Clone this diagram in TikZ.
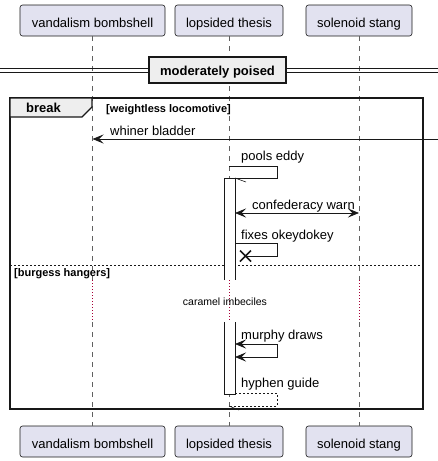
\documentclass[tikz,border=0pt]{standalone}
\usepackage{fontspec}
\setmainfont{Liberation Sans}
\usetikzlibrary{arrows.meta}
\definecolor{partfill}{RGB}{226,226,240}
\definecolor{partdraw}{RGB}{24,24,24}
\definecolor{grpfill}{RGB}{238,238,238}
\definecolor{delaycol}{RGB}{168,0,54}
\begin{document}
\begin{tikzpicture}[x=1pt,y=-1pt,
  part/.style={draw=partdraw, fill=partfill, rounded corners=2.5pt, minimum height=31pt,
    inner sep=0pt, text height=13.6pt, text depth=0pt, font=\fontsize{13}{15}\selectfont, line width=0.6pt},
  life/.style={dash pattern=on 5pt off 5pt, draw=gray!75!black, line width=0.6pt},
  delayline/.style={dash pattern=on 1pt off 2pt, draw=delaycol, line width=0.8pt},
  msg/.style={line width=0.8pt, draw=partdraw},
  tip/.tip={Stealth[length=11pt,width=9pt,inset=4.5pt]},
  lbl/.style={anchor=base west, inner sep=0pt, font=\fontsize{13}{15}\selectfont},
  grp/.style={line width=1.8pt, draw=partdraw},
  bar/.style={draw=partdraw, line width=0.8pt}]
\useasboundingbox (0,0) rectangle (438,461);

% participants
\node[part, minimum width=145pt] (vbT) at (92.5,20.5) {vandalism bombshell};
\node[part, minimum width=108pt] (ltT) at (229,20.5) {lopsided thesis};
\node[part, minimum width=106pt] (ssT) at (359,20.5) {solenoid stang};
\node[part, minimum width=145pt] (vbB) at (92.5,441.5) {vandalism bombshell};
\node[part, minimum width=108pt] (ltB) at (229,441.5) {lopsided thesis};
\node[part, minimum width=106pt] (ssB) at (359,441.5) {solenoid stang};

% lifelines with delay
\foreach \p/\x in {vb/92.5, lt/229, ss/359} {
  \coordinate (\p D1) at (\x,280);
  \coordinate (\p D2) at (\x,322);
  \draw[life] (\p T.south) -- (\p D1);
  \draw[delayline] (\p D1) -- (\p D2);
  \draw[life] (\p D2) -- (\p B.north);
}

% divider
\coordinate (dL) at (0,68.5); \coordinate (dR) at (438,68.5);
\coordinate (dL2) at (0,72.5); \coordinate (dR2) at (438,72.5);
\draw[line width=0.9pt, partdraw] (dL) -- (dR) (dL2) -- (dR2);
\node[draw=partdraw, fill=grpfill, line width=1.5pt, minimum width=137pt, minimum height=26pt,
  inner sep=0pt, text height=11.4pt, text depth=0pt, font=\bfseries\fontsize{13}{15}\selectfont]
  (div) at (217.5,70) {moderately poised};

% break frame
\draw[grp] (10,98) rectangle (423,409);
\draw[line width=1.2pt, draw=partdraw, fill=grpfill] (10,98) -- (92,98) -- (92,107) -- (82,117) -- (10,117) -- cycle;
\node[anchor=base, inner sep=0pt, font=\bfseries\fontsize{13}{15}\selectfont] (brk) at (43.5,112.5) {break};
\node[anchor=base west, inner sep=0pt, font=\bfseries\fontsize{11}{13}\selectfont] (cond1) at (106,112) {[weightless locomotive]};

% whiner bladder
\coordinate (wbR) at (438,139); \coordinate (wbL) at (92.5,139);
\draw[msg, -{tip}] (wbR) -- (wbL);
\node[lbl] (wbT) at (110,135.3) {whiner bladder};

% pools eddy
\coordinate (pe1) at (229,166); \coordinate (pe2) at (277,166);
\coordinate (pe3) at (277,178); \coordinate (pe4) at (235,178);
\draw[msg] (pe1) -- (pe2) -- (pe3) -- (pe4);
\draw[line width=0.6pt, partdraw] (pe4) -- ++(11,4);
\node[lbl] (peT) at (241,160) {pools eddy};

% confederacy warn
\coordinate (cw1) at (235,213); \coordinate (cw2) at (359,213);
\draw[msg, {tip}-{tip}] (cw1) -- (cw2);
\node[lbl] (cwT) at (252,209.3) {confederacy warn};

% fixes okeydokey
\coordinate (fo1) at (235,243); \coordinate (fo2) at (277,243);
\coordinate (fo3) at (277,256); \coordinate (fo4) at (245.5,256);
\draw[msg] (fo1) -- (fo2) -- (fo3) -- (fo4);
\draw[line width=1.6pt, partdraw] (fo4) ++(-5.5,-5.5) -- ++(11,11) (fo4) ++(-5.5,5.5) -- ++(11,-11);
\node[lbl] (foT) at (241,239) {fixes okeydokey};

% else separator
\coordinate (sepL) at (10,265); \coordinate (sepR) at (423,265);
\draw[dash pattern=on 2pt off 2pt, line width=0.8pt, partdraw] (sepL) -- (sepR);
\node[anchor=base west, inner sep=0pt, font=\bfseries\fontsize{11}{13}\selectfont] (cond2) at (14,276.7) {[burgess hangers]};

% delay text
\node[anchor=base, inner sep=0pt, font=\fontsize{10.5}{12}\selectfont] (dly) at (225,305) {caramel imbeciles};

% murphy draws
\coordinate (md1) at (235,344); \coordinate (md2) at (277,344);
\coordinate (md3) at (277,357); \coordinate (md4) at (235,357);
\draw[msg, {tip}-{tip}] (md1) -- (md2) -- (md3) -- (md4);
\node[lbl] (mdT) at (241,339.3) {murphy draws};

% hyphen guide
\coordinate (hg1) at (235,393); \coordinate (hg2) at (277,393);
\coordinate (hg3) at (277,406); \coordinate (hg4) at (229,406);
\draw[msg, dash pattern=on 2pt off 2pt] (hg1) -- (hg2) -- (hg3) -- (hg4);
\draw[line width=0.6pt, partdraw] (hg4) -- ++(10,4);
\node[lbl] (hgT) at (241,387.3) {hyphen guide};

% activation bars (open across the delay)
\fill[white] (224,178) rectangle (235,280);
\draw[bar] (224,280) -- (224,178) -- (235,178) -- (235,280);
\fill[white] (224,322) rectangle (235,394);
\draw[bar] (224,322) -- (224,394) -- (235,394) -- (235,322);
\end{tikzpicture}
\end{document}
